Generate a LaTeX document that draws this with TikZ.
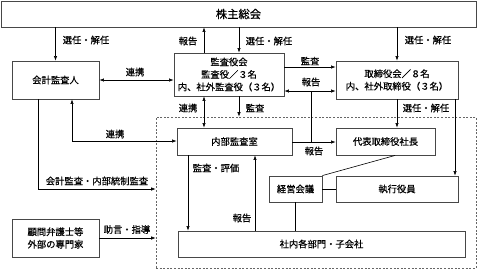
\documentclass[tikz,border=0pt]{standalone}
\usepackage{fontspec}
\setmainfont{Noto Sans CJK JP}
\newfontfamily\jpfont[FakeBold=0.5]{Noto Sans CJK JP}
\usetikzlibrary{arrows.meta}
\begin{document}
\begin{tikzpicture}[x=1pt,y=-1pt,
  box/.style={draw=black!72, line width=0.9pt, fill=white, inner sep=0pt, align=center,
    font=\jpfont\fontsize{9.3}{12.5}\selectfont},
  region/.style={draw=black!60, line width=0.6pt, dash pattern=on 2pt off 1.6pt, inner sep=0pt},
  arr/.style={-{Latex[length=4.5pt,width=3.4pt]}, line width=0.6pt},
  darr/.style={{Latex[length=4.5pt,width=3.4pt]}-{Latex[length=4.5pt,width=3.4pt]}, line width=0.6pt},
  link/.style={line width=0.6pt},
  lbl/.style={inner sep=0pt, font=\jpfont\fontsize{9.3}{11}\selectfont}]
\useasboundingbox (0,0) rectangle (477,269);

% dashed region
\node[region, minimum width=320pt, minimum height=151pt] (reg) at (316,192.5) {};

% boxes
\node[box, minimum width=475pt, minimum height=26pt, font=\jpfont\fontsize{11.3}{13}\selectfont] (kabu) at (238.5,14) {株主総会};
\node[box, minimum width=87pt, minimum height=38pt] (kaikei) at (55.5,80) {会計監査人};
\node[box, minimum width=110pt, minimum height=43pt] (kansa) at (229,74.5) {監査役会\\監査役／３名\\内、社外監査役（３名）};
\node[box, minimum width=122pt, minimum height=38pt] (tori) at (397,80) {取締役会／８名\\内、社外取締役（３名）};
\node[box, minimum width=115pt, minimum height=27pt] (naibu) at (234.5,141.5) {内部監査室};
\node[box, minimum width=99pt, minimum height=27pt] (daihyo) at (385.5,141.5) {代表取締役社長};
\node[box, minimum width=53pt, minimum height=26pt] (keiei) at (295.5,189) {経営会議};
\node[box, minimum width=122pt, minimum height=26pt] (shikko) at (397,189) {執行役員};
\node[box, minimum width=287pt, minimum height=26pt] (shanai) at (321.5,244) {社内各部門・子会社};
\node[box, minimum width=87pt, minimum height=38pt] (komon) at (55.5,238) {顧問弁護士等\\外部の専門家};

% helper coordinates
\coordinate (x38) at (38,0);
\coordinate (x72) at (72,0);
\coordinate (x188) at (188,0);
\coordinate (x204) at (204,0);
\coordinate (x239) at (239,0);
\coordinate (x255) at (255,0);
\coordinate (x395) at (395,0);
\coordinate (x455) at (455,0);
\coordinate (y67) at (0,67);
\coordinate (y91) at (0,91);
\coordinate (y141) at (0,141);
\coordinate (y189) at (0,189);
\coordinate (j1) at (311,91);
\coordinate (j2) at (311,142);

% connectors
\draw[arr] (kabu.south -| kaikei) -- (kaikei.north);
\draw[arr] (kansa.north -| x204) -- (kabu.south -| x204);
\draw[arr] (kabu.south -| x239) -- (kansa.north -| x239);
\draw[arr] (kabu.south -| tori) -- (tori.north);
\draw[darr] (kaikei.east) -- (kansa.west |- kaikei.east);
\draw[arr] (kansa.east |- y67) -- (tori.west |- y67);
\draw[darr] (kansa.east |- y91) -- (tori.west |- y91);
\draw[arr] (naibu.east |- j2) -- (daihyo.west |- j2);
\draw[link] (j2) -- (j1);
\draw[darr] (kansa.south -| x204) -- (naibu.north -| x204);
\draw[arr] (kansa.south -| x239) -- (reg.north -| x239);
\draw[arr] (tori.south) -- (daihyo.north -| tori.south);
\draw[arr] (tori.south -| x455) -- (shikko.north -| x455);
\draw[darr] (kaikei.south -| x72) -- (x72 |- y141) -- (naibu.west |- y141);
\draw[arr] (kaikei.south -| x38) -- (x38 |- y189) -- (reg.west |- y189);
\draw[arr] (komon.east) -- (reg.west |- komon.east);
\draw[arr] (naibu.south -| x188) -- (shanai.north -| x188);
\draw[arr] (shanai.north -| x255) -- (naibu.south -| x255);
\draw[link] (keiei.north east) -- (daihyo.south -| x395);
\draw[link] (keiei.east) -- (shikko.west |- keiei.east);
\draw[link] (keiei.south) -- (shanai.north -| keiei.south);

% labels
\node[lbl] (l1) at (86,40) {選任・解任};
\node[lbl] (l2) at (188,41) {報告};
\node[lbl] (l3) at (269,41) {選任・解任};
\node[lbl] (l4) at (428,40) {選任・解任};
\node[lbl] (l5) at (135,72) {連携};
\node[lbl] (l6) at (310,61) {監査};
\node[lbl] (l7) at (311,82) {報告};
\node[lbl] (l8) at (188,108) {連携};
\node[lbl] (l9) at (255,108) {監査};
\node[lbl] (l10) at (426,108) {選任・解任};
\node[lbl] (l11) at (115,134) {連携};
\node[lbl] (l12) at (97,181) {会計監査・内部統制監査};
\node[lbl] (l13) at (127,229.5) {助言・指導};
\node[lbl] (l14) at (216,168) {監査・評価};
\node[lbl] (l15) at (242,218) {報告};
\node[lbl] (l16) at (314,151) {報告};
\end{tikzpicture}
\end{document}
